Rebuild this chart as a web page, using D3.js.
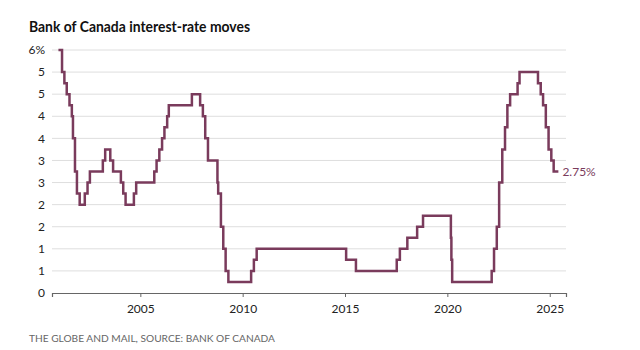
<!DOCTYPE html>
<html>
<head>
<meta charset="utf-8">
<script src="https://cdn.jsdelivr.net/npm/d3@7"></script>
<style>
  body { margin: 0; background: #fff; }
  svg text { font-family: Lato, "Open Sans", sans-serif; }
</style>
</head>
<body>
<div id="chart"></div>
<script>
(function(){

  // change dates of the overnight rate target
  var changeDates = [
    "2001-01-01","2001-03-06","2001-04-17","2001-05-29","2001-07-17","2001-08-28","2001-09-17","2001-10-23","2001-11-27",
    "2002-01-15","2002-04-16","2002-06-04","2002-07-16",
    "2003-03-04","2003-04-15","2003-07-15","2003-09-03",
    "2004-01-20","2004-03-02","2004-04-13","2004-09-08","2004-10-19",
    "2005-09-07","2005-10-18","2005-12-06",
    "2006-01-24","2006-03-07","2006-04-25","2006-05-24",
    "2007-07-10","2007-12-04",
    "2008-01-22","2008-03-04","2008-04-22","2008-10-08","2008-10-21","2008-12-09",
    "2009-01-20","2009-03-03","2009-04-21",
    "2010-06-01","2010-07-20","2010-09-08",
    "2015-01-21","2015-07-15",
    "2017-07-12","2017-09-06",
    "2018-01-17","2018-07-11","2018-10-24",
    "2020-03-04","2020-03-13","2020-03-27",
    "2022-03-02","2022-04-13","2022-06-01","2022-07-13","2022-09-07","2022-10-26","2022-12-07",
    "2023-01-25","2023-06-07","2023-07-12",
    "2024-06-05","2024-07-24","2024-09-04","2024-10-23","2024-12-11",
    "2025-01-29","2025-03-12","2025-06-04"
  ]
  var rates = [
    5.5,5.0,4.75,4.5,4.25,4.0,3.5,2.75,2.25,
    2.0,2.25,2.5,2.75,
    3.0,3.25,3.0,2.75,
    2.5,2.25,2.0,2.25,2.5,
    2.75,3.0,3.25,
    3.5,3.75,4.0,4.25,
    4.5,4.25,
    4.0,3.5,3.0,2.5,2.25,1.5,
    1.0,0.5,0.25,
    0.5,0.75,1.0,
    0.75,0.5,
    0.75,1.0,
    1.25,1.5,1.75,
    1.25,0.75,0.25,
    0.5,1.0,1.5,2.5,3.25,3.75,4.25,
    4.5,4.75,5.0,
    4.75,4.5,4.25,3.75,3.25,
    3.0,2.75,2.75
  ]
  var yTicks = [0,0.5,1,1.5,2,2.5,3,3.5,4,4.5,5,5.5]
  var xTickYears = [2005,2010,2015,2020,2025]

  var title = "Bank of Canada interest-rate moves"
  var source = "THE GLOBE AND MAIL, SOURCE: BANK OF CANADA"

  var parse = d3.timeParse("%Y-%m-%d")
  var data = changeDates.map(function(d, i){ return { date: parse(d), rate: rates[i] } })

  var width = 640, height = 350
  var margin = { top: 50, right: 74, bottom: 57, left: 52 }

  var svg = d3.select("#chart").append("svg")
    .attr("width", width)
    .attr("height", height)

  var x = d3.scaleTime()
    .domain([parse("2000-09-08"), parse("2025-10-18")])
    .range([margin.left, width - margin.right])

  var y = d3.scaleLinear()
    .domain([0, 5.5])
    .range([height - margin.bottom, margin.top])

  var color = "#7a3b5c"

  svg.append("text")
    .attr("x", 29)
    .attr("y", 32)
    .attr("textLength", 221)
    .attr("lengthAdjust", "spacingAndGlyphs")
    .style("font-size", "15.5px")
    .style("font-weight", "bold")
    .style("fill", "#111")
    .text(title)

  // gridlines
  svg.append("g")
    .selectAll("line")
    .data(yTicks.filter(function(d){ return d > 0 }))
    .enter().append("line")
    .attr("x1", margin.left)
    .attr("x2", width - margin.right)
    .attr("y1", function(d){ return y(d) })
    .attr("y2", function(d){ return y(d) })
    .style("stroke", "#dedede")
    .style("stroke-width", 1)

  // y labels (rounded like the original)
  svg.append("g")
    .selectAll("text")
    .data(yTicks)
    .enter().append("text")
    .attr("x", 45)
    .attr("y", function(d){ return y(d) })
    .attr("dy", "0.35em")
    .attr("text-anchor", "end")
    .style("font-size", "12px")
    .style("fill", "#222")
    .text(function(d){ return d3.format(".0f")(d) + (d === 5.5 ? "%" : "") })

  // x axis
  var xAxis = d3.axisBottom(x)
    .tickValues(xTickYears.map(function(yr){ return new Date(yr, 0, 1) }))
    .tickFormat(d3.timeFormat("%Y"))
    .tickSize(4)
    .tickPadding(7)

  var gx = svg.append("g")
    .attr("transform", "translate(0," + y(0) + ")")
    .call(xAxis)
  gx.select(".domain").style("stroke", "#666").style("stroke-width", 1.2)
  gx.selectAll(".tick line").style("stroke", "#666")
  gx.selectAll(".tick text")
    .style("font-family", "Lato, 'Open Sans', sans-serif")
    .style("font-size", "12px")
    .style("fill", "#222")

  var line = d3.line()
    .curve(d3.curveStepAfter)
    .x(function(d){ return x(d.date) })
    .y(function(d){ return y(d.rate) })

  svg.append("path")
    .datum(data)
    .attr("d", line)
    .style("fill", "none")
    .style("stroke", color)
    .style("stroke-width", 2.5)

  var last = data[data.length - 1]
  svg.append("text")
    .attr("x", x(last.date) + 4)
    .attr("y", y(last.rate))
    .attr("dy", "0.35em")
    .style("font-size", "12px")
    .style("fill", color)
    .text(d3.format(".2f")(last.rate) + "%")

  svg.append("text")
    .attr("x", 29)
    .attr("y", 341.5)
    .attr("textLength", 246)
    .attr("lengthAdjust", "spacingAndGlyphs")
    .style("font-size", "10px")
    .style("fill", "#666")
    .text(source)

})()
</script>
</body>
</html>
